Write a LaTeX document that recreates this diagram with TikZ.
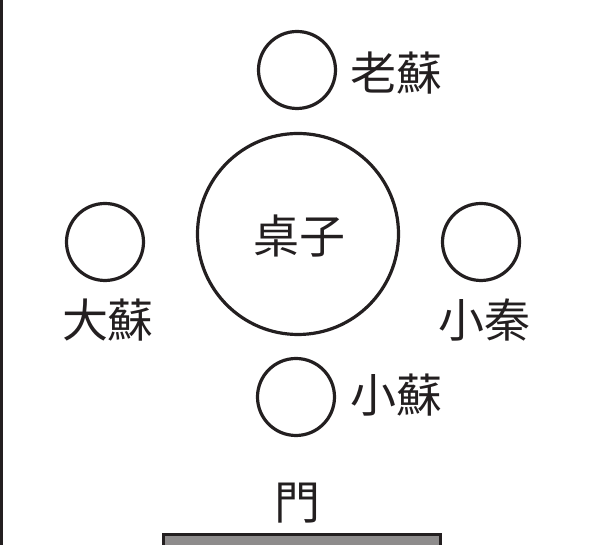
\documentclass[tikz,border=0pt]{standalone}
\usepackage{fontspec}
\newfontfamily\cjk{Noto Sans CJK TC}
\definecolor{ink}{HTML}{231F20}
\definecolor{doorgray}{HTML}{8E8C8C}
\begin{document}
\begin{tikzpicture}[x=1pt,y=1pt,
  seat/.style={circle,draw=ink,line width=3.2pt,minimum size=77pt,inner sep=0pt},
  tablec/.style={circle,draw=ink,line width=3.2pt,minimum size=201pt,inner sep=0pt},
  lbl/.style={font=\cjk\fontsize{46}{46}\selectfont,text=ink,inner sep=0pt}]
\clip (0,0) rectangle (590,545);
\useasboundingbox (0,0) rectangle (590,545);
\fill[ink] (0,0) rectangle (3,545);
% table
\node[tablec] (table) at (298,311) {};
\node[lbl] (tablelbl) at (299,309) {桌子};
% seats
\node[seat] (top) at (297,475) {};
\node[seat] (left) at (105,303) {};
\node[seat] (right) at (481,303) {};
\node[seat] (bottom) at (296,148) {};
% labels
\node[lbl,anchor=west] (laosu) at (350,472) {老蘇};
\node[lbl] (dasu) at (108,225) {大蘇};
\node[lbl] (xiaoqin) at (484,225) {小秦};
\node[lbl,anchor=west] (xiaosu) at (350,150) {小蘇};
\node[lbl] (men) at (297,42) {門};
% door
\draw[ink,line width=3pt,fill=doorgray] (163,-10) rectangle (440,10.5);
\end{tikzpicture}
\end{document}
